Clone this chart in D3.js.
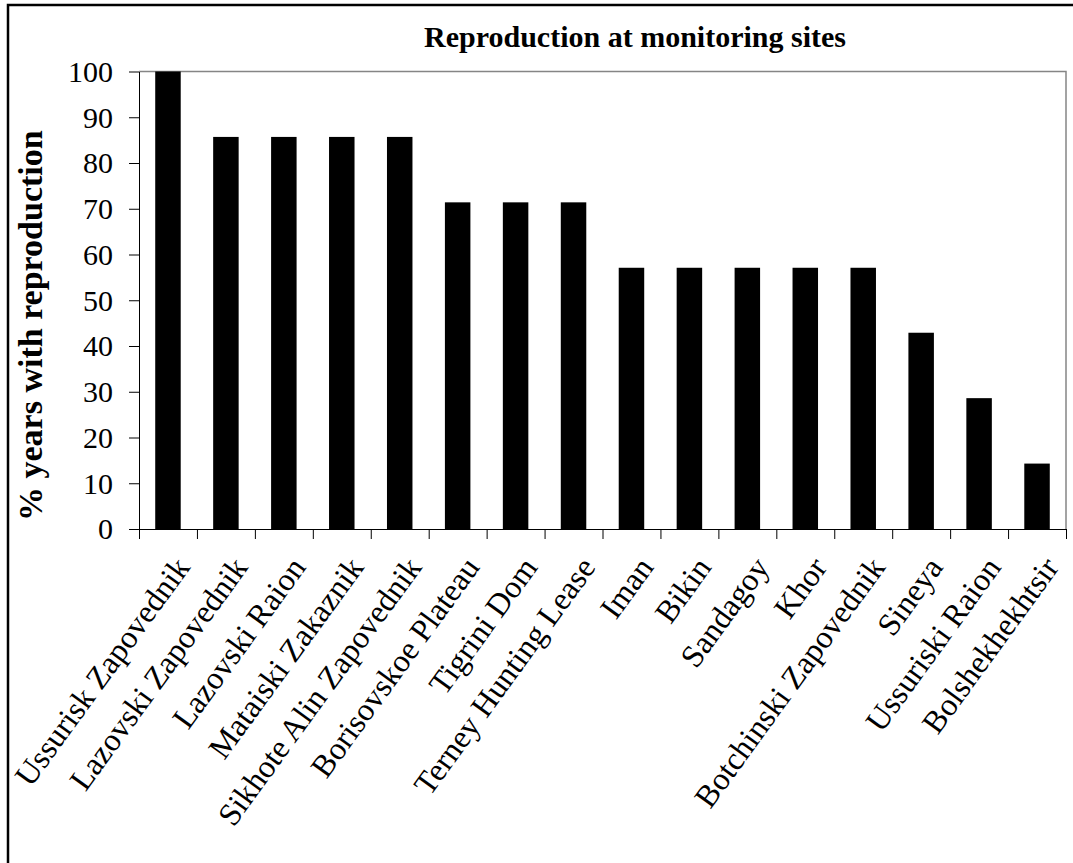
<!DOCTYPE html>
<html>
<head>
<meta charset="utf-8">
<script src="https://cdn.jsdelivr.net/npm/d3@7"></script>
<style>
    body { margin: 0; background: #fff; }
    text { font-family: "Liberation Serif", "Times New Roman", serif; fill: #000; }
</style>
</head>
<body>
<script>
// données
var sites = ["Ussurisk Zapovednik", "Lazovski Zapovednik", "Lazovski Raion", "Mataiski Zakaznik",
    "Sikhote Alin Zapovednik", "Borisovskoe Plateau", "Tigrini Dom", "Terney Hunting Lease",
    "Iman", "Bikin", "Sandagoy", "Khor", "Botchinski Zapovednik", "Sineya", "Ussuriski Raion", "Bolshekhekhtsir"];
var pctYears = [100, 85.7, 85.7, 85.7, 85.7, 71.4, 71.4, 71.4, 57.1, 57.1, 57.1, 57.1, 57.1, 42.9, 28.6, 14.3];
var yTicks = [0, 10, 20, 30, 40, 50, 60, 70, 80, 90, 100];
var titre = "Reproduction at monitoring sites";
var yTitre = "% years with reproduction";

var width = 1073;
var height = 863;
// attention : "top" est réservé dans window
var plotLeft = 139, plotRight = 1066, plotTop = 71.5, plotBottom = 529;

var svg = d3.select("body")
    .append("svg")
    .attr("width", width)
    .attr("height", height);

// cadre extérieur
svg.append("rect")
    .attr("x", 8).attr("y", 5)
    .attr("width", 1100).attr("height", 900)
    .attr("fill", "none")
    .attr("stroke", "#000")
    .attr("stroke-width", 2.5);

var xscale = d3.scaleBand()
    .domain(sites)
    .range([plotLeft, plotRight])
    .paddingInner(0.56)
    .paddingOuter(0.28);

var yscale = d3.scaleLinear()
    .domain([0, 100])
    .range([plotBottom, plotTop]);

// bordure grise du haut et de droite
svg.append("path")
    .attr("d", "M" + plotLeft + "," + plotTop + "H" + plotRight + "V" + plotBottom)
    .attr("fill", "none")
    .attr("stroke", "#858585")
    .attr("stroke-width", 1.5);

// barres
svg.append("g")
    .selectAll("rect")
    .data(pctYears)
    .enter()
    .append("rect")
    .attr("x", function (d, i) { return xscale(sites[i]); })
    .attr("y", function (d) { return yscale(d); })
    .attr("width", xscale.bandwidth())
    .attr("height", function (d) { return yscale(0) - yscale(d); })
    .attr("fill", "#000");

// axe y
var y_axis = d3.axisLeft(yscale)
    .tickValues(yTicks)
    .tickSize(10)
    .tickSizeOuter(0)
    .tickPadding(16);

var gy = svg.append("g")
    .attr("transform", "translate(" + plotLeft + ",0)")
    .call(y_axis);
gy.selectAll("text")
    .style("font-size", "30px")
    .style("font-family", "Liberation Serif")
    .attr("dy", "0.33em");
gy.selectAll("line, path").attr("stroke", "#000");

// axe x : graduations entre les catégories
var xticks = d3.scaleLinear().domain([0, sites.length]).range([plotLeft, plotRight]);
var x_axis = d3.axisBottom(xticks)
    .tickValues(d3.range(0, sites.length + 1))
    .tickSize(10)
    .tickSizeOuter(0)
    .tickFormat("");
var gx = svg.append("g")
    .attr("transform", "translate(0," + plotBottom + ")")
    .call(x_axis);
gx.selectAll("line, path").attr("stroke", "#000");

// étiquettes inclinées
svg.append("g")
    .selectAll("text")
    .data(sites)
    .enter()
    .append("text")
    .attr("transform", function (d) {
        var cx = xscale(d) + xscale.bandwidth() / 2 + 14;
        return "translate(" + cx + "," + (plotBottom + 32) + ") rotate(-54)";
    })
    .attr("text-anchor", "end")
    .attr("dy", "0.35em")
    .style("font-size", "32px")
    .text(function (d) { return d; });

// titre
svg.append("text")
    .attr("x", 635)
    .attr("y", 47)
    .attr("text-anchor", "middle")
    .style("font-size", "30px")
    .style("font-weight", "bold")
    .text(titre);

// titre axe y
svg.append("text")
    .attr("transform", "translate(42,521) rotate(-90)")
    .attr("text-anchor", "start")
    .style("font-size", "34px")
    .style("font-weight", "bold")
    .text(yTitre);
</script>
</body>
</html>
